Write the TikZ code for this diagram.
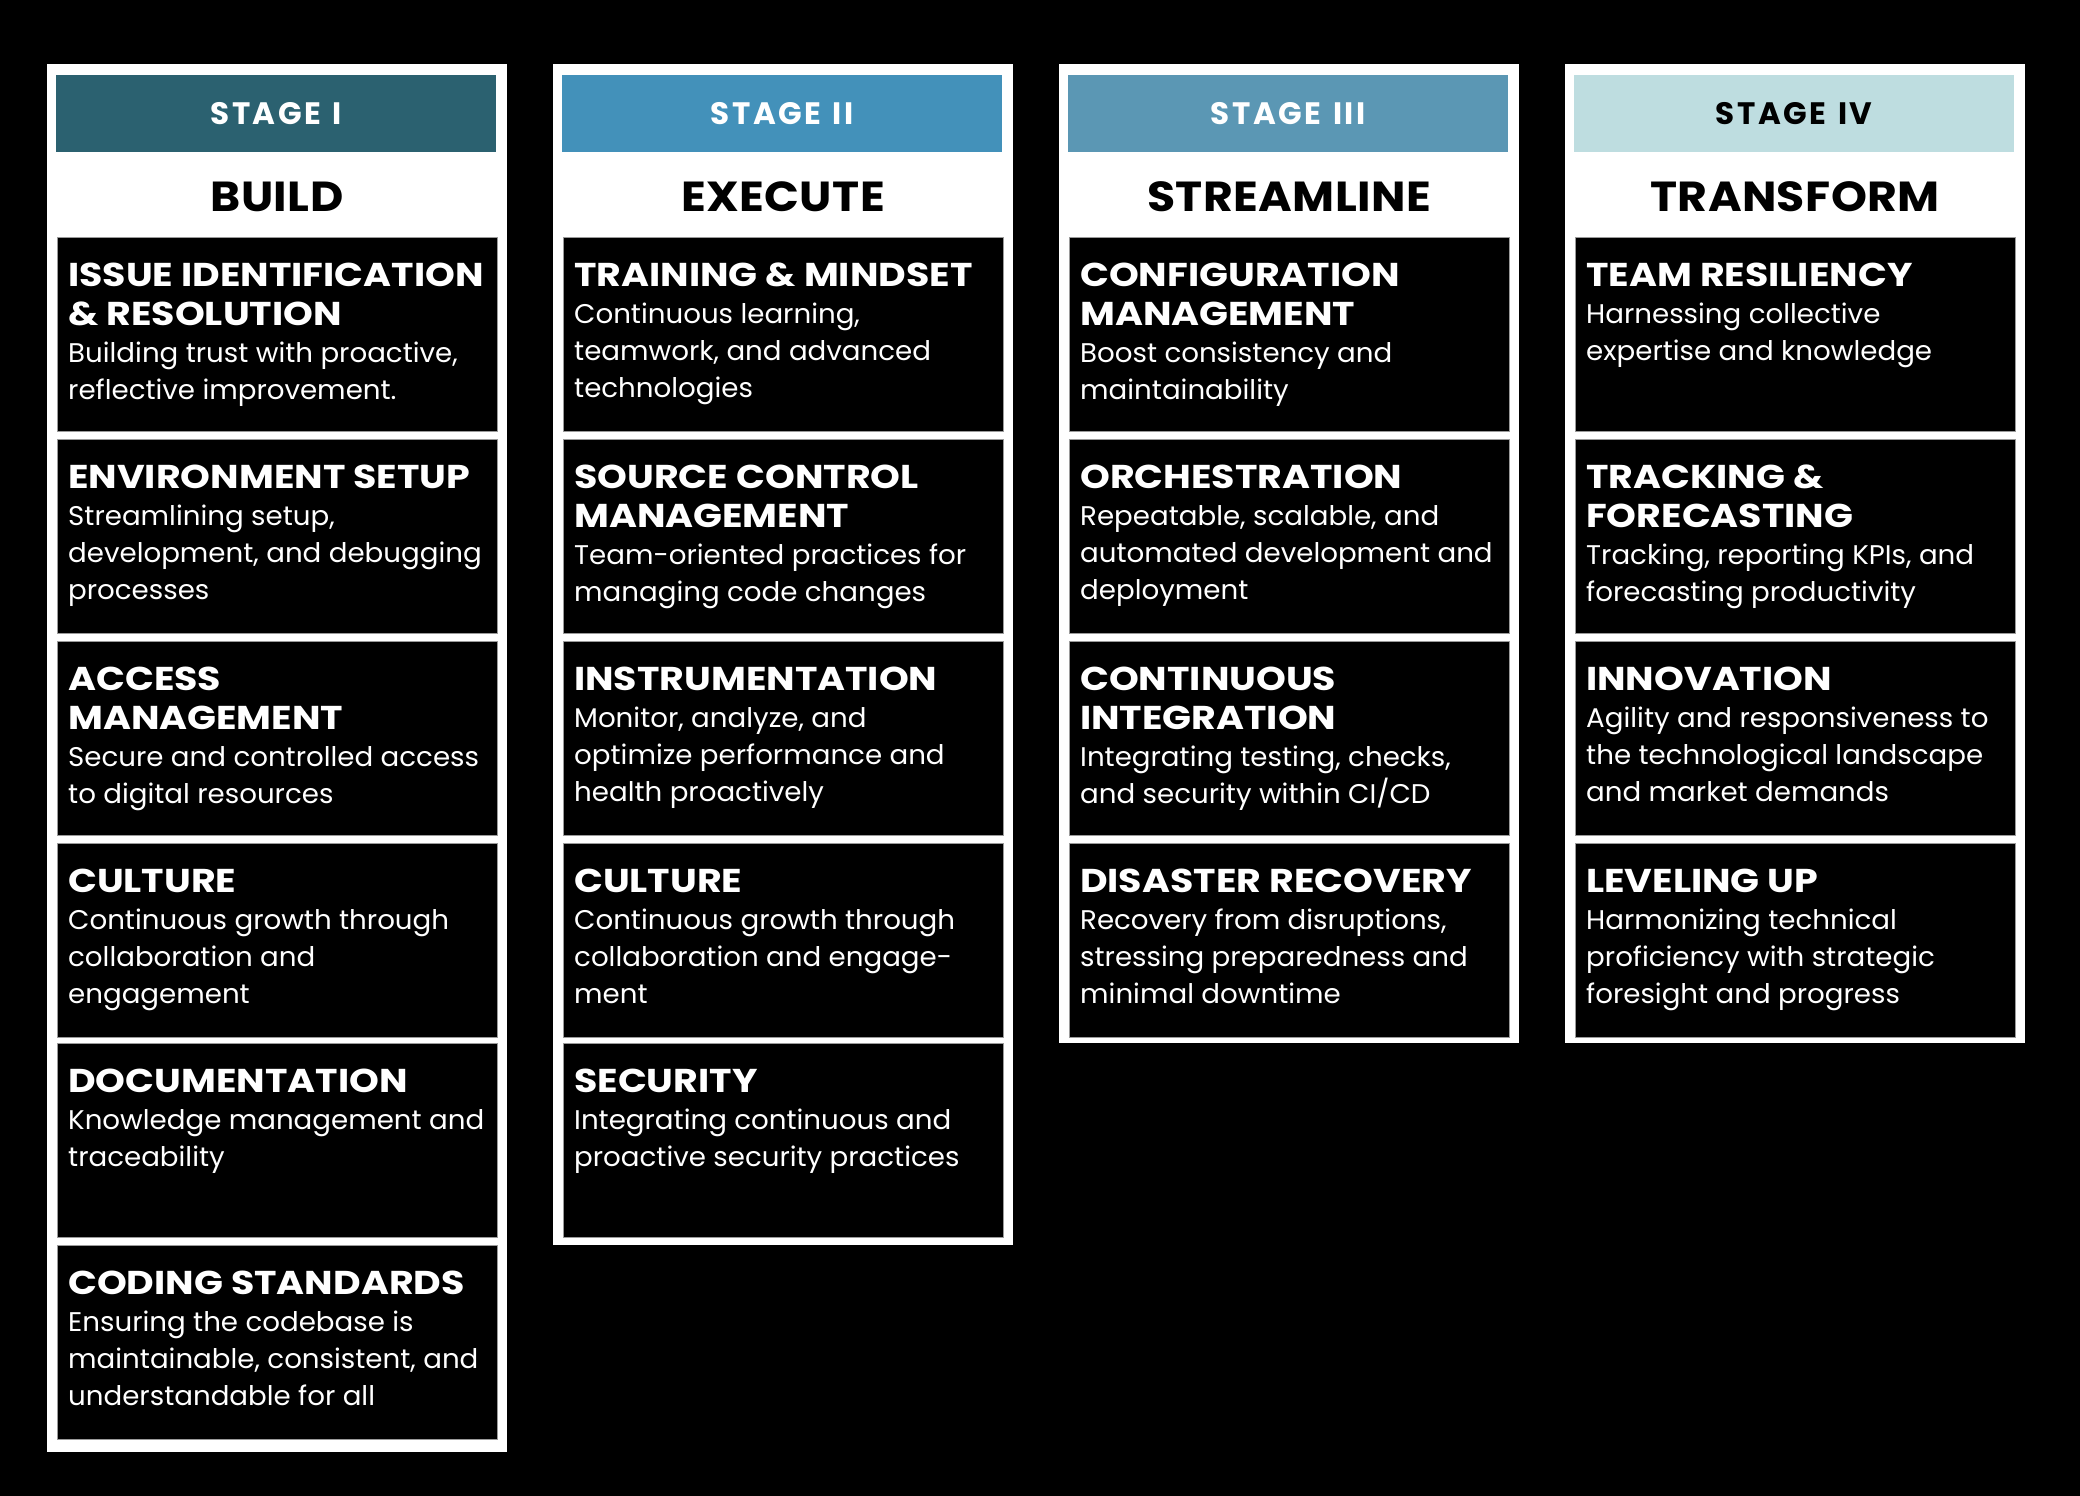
\documentclass[tikz,border=0pt]{standalone}
\usepackage{fontspec}
\setmainfont{Poppins}
\newfontfamily\stagefam{Poppins}[WordSpace=1.3, LetterSpace=8]
\newfontfamily\phasefam{Poppins}[FakeStretch=1.09, LetterSpace=1]
\newfontfamily\ttlfam{Poppins}[FakeStretch=1.15]
\newfontfamily\bdyfam{Poppins}[FakeStretch=1.025]

\definecolor{stageone}{HTML}{2B6170}
\definecolor{stagetwo}{HTML}{4391BA}
\definecolor{stagethree}{HTML}{5B97B4}
\definecolor{stagefour}{HTML}{BEDDE0}
\definecolor{cardedge}{HTML}{9A9A9A}

\newcommand\stagefont{\stagefam\fontsize{31}{36}\selectfont\bfseries}
\newcommand\phasefont{\phasefam\fontsize{42}{48}\selectfont\bfseries}
\newcommand\ttlfont{\ttlfam\fontsize{33}{39}\selectfont\bfseries}
\newcommand\bdyfont{\bdyfam\fontsize{27}{37}\selectfont\mdseries}

% one practice card: name, left x, top y, title, description
\newcommand\practice[5]{%
  \node[cardbox] (#1) at (#2,#3) {};
  \node[cardtext] (#1-txt) at ([xshift=11pt,yshift=-26pt]#1.north west)
    {\parbox[t]{480pt}{\raggedright\ttlfont #4\par\bdyfont #5\par}};
}

\begin{document}
\begin{tikzpicture}[x=1pt,y=-1pt,
  panel/.style={fill=white, draw=none, inner sep=0, anchor=north west, minimum width=460pt},
  stagebar/.style={draw=none, inner sep=0, anchor=north west, minimum width=440pt, minimum height=77pt},
  stagelabel/.style={inner sep=0, font=\stagefont},
  phaselabel/.style={inner sep=0, font=\phasefont, text=black},
  cardbox/.style={fill=black, draw=cardedge, line width=1pt, inner sep=0, anchor=north west,
                  minimum width=440pt, minimum height=194pt},
  cardtext/.style={anchor=north west, inner sep=0, text=white}]

% background
\fill[black] (0,0) rectangle (2080,1496);
\useasboundingbox (0,0) rectangle (2080,1496);

% white column panels
\node[panel, minimum height=1388pt] (p1) at (47,64) {};
\node[panel, minimum height=1181pt] (p2) at (553,64) {};
\node[panel, minimum height=979pt] (p3) at (1059,64) {};
\node[panel, minimum height=979pt] (p4) at (1565,64) {};

% stage bars
\node[stagebar, fill=stageone] (h1) at (56,75) {};
\node[stagebar, fill=stagetwo] (h2) at (562,75) {};
\node[stagebar, fill=stagethree] (h3) at (1068,75) {};
\node[stagebar, fill=stagefour] (h4) at (1574,75) {};
\node[stagelabel, text=white] (s1) at (h1.center) {STAGE I};
\node[stagelabel, text=white] (s2) at (h2.center) {STAGE II};
\node[stagelabel, text=white] (s3) at (h3.center) {STAGE III};
\node[stagelabel, text=black] (s4) at (h4.center) {STAGE IV};

% phase names
\node[phaselabel] (n1) at (277,197) {BUILD};
\node[phaselabel] (n2) at (783,197) {EXECUTE};
\node[phaselabel] (n3) at (1289,197) {STREAMLINE};
\node[phaselabel] (n4) at (1795,197) {TRANSFORM};

% Stage I
\practice{a1}{57}{237}{ISSUE IDENTIFICATION\\\& RESOLUTION}{Building trust with proactive,\\reflective improvement.}
\practice{a2}{57}{439}{ENVIRONMENT SETUP}{Streamlining setup,\\development, and debugging\\processes}
\practice{a3}{57}{641}{ACCESS\\MANAGEMENT}{Secure and controlled access\\to digital resources}
\practice{a4}{57}{843}{CULTURE}{Continuous growth through\\collaboration and\\engagement}
\practice{a5}{57}{1043}{DOCUMENTATION}{Knowledge management and\\traceability}
\practice{a6}{57}{1245}{CODING STANDARDS}{Ensuring the codebase is\\maintainable, consistent, and\\understandable for all}

% Stage II
\practice{b1}{563}{237}{TRAINING \& MINDSET}{Continuous learning,\\teamwork, and advanced\\technologies}
\practice{b2}{563}{439}{SOURCE CONTROL\\MANAGEMENT}{Team-oriented practices for\\managing code changes}
\practice{b3}{563}{641}{INSTRUMENTATION}{Monitor, analyze, and\\optimize performance and\\health proactively}
\practice{b4}{563}{843}{CULTURE}{Continuous growth through\\collaboration and engage-\\ment}
\practice{b5}{563}{1043}{SECURITY}{Integrating continuous and\\proactive security practices}

% Stage III
\practice{c1}{1069}{237}{CONFIGURATION\\MANAGEMENT}{Boost consistency and\\maintainability}
\practice{c2}{1069}{439}{ORCHESTRATION}{Repeatable, scalable, and\\automated development and\\deployment}
\practice{c3}{1069}{641}{CONTINUOUS\\INTEGRATION}{Integrating testing, checks,\\and security within CI/CD}
\practice{c4}{1069}{843}{DISASTER RECOVERY}{Recovery from disruptions,\\stressing preparedness and\\minimal downtime}

% Stage IV
\practice{d1}{1575}{237}{TEAM RESILIENCY}{Harnessing collective\\expertise and knowledge}
\practice{d2}{1575}{439}{TRACKING \&\\FORECASTING}{Tracking, reporting KPIs, and\\forecasting productivity}
\practice{d3}{1575}{641}{INNOVATION}{Agility and responsiveness to\\the technological landscape\\and market demands}
\practice{d4}{1575}{843}{LEVELING UP}{Harmonizing technical\\proficiency with strategic\\foresight and progress}

\end{tikzpicture}
\end{document}
